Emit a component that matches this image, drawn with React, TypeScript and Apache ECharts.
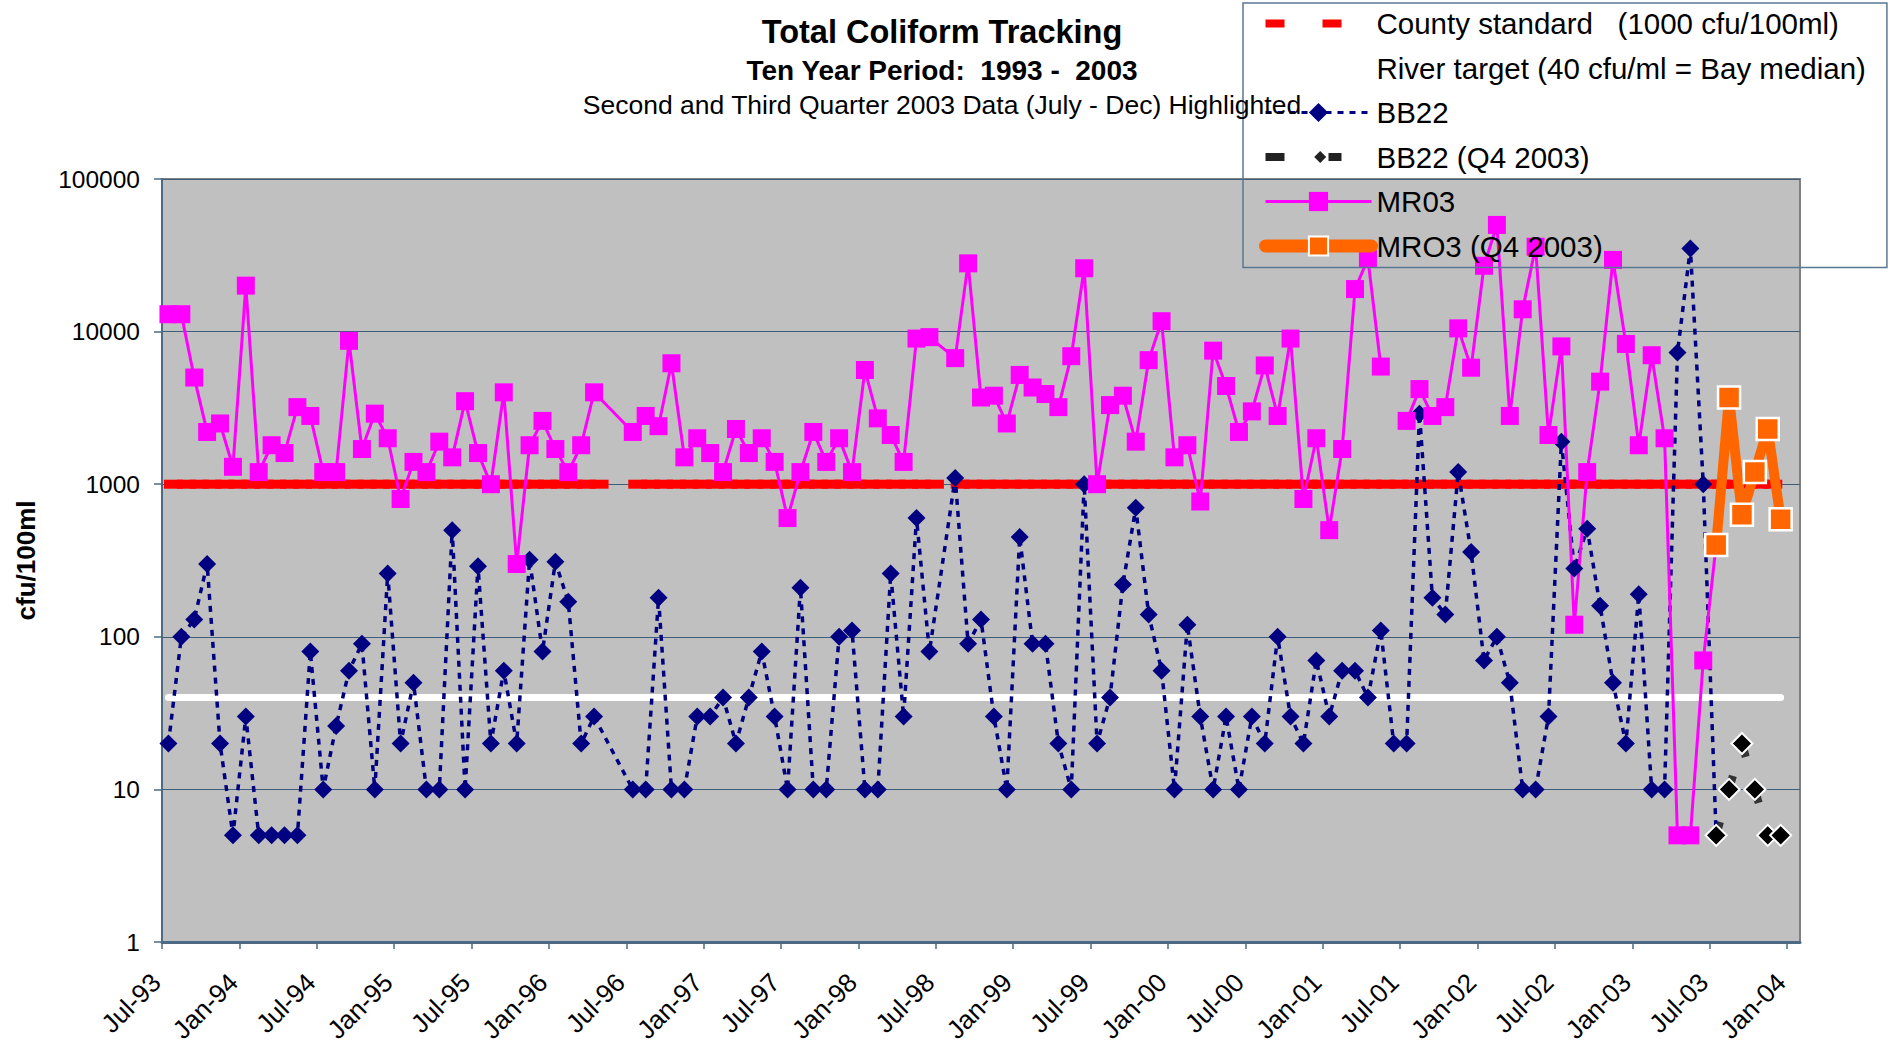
import React, { useEffect, useRef } from 'react';
import * as echarts from 'echarts';

const FONT = '"Liberation Sans", Arial, Helvetica, sans-serif';

// Sampling months (rows of the source table). May-96, Jun-96 and Jul-98 have no row.
const SAMPLE_MONTHS: string[] = [
  '1993-07', '1993-08', '1993-09', '1993-10', '1993-11', '1993-12',
  '1994-01', '1994-02', '1994-03', '1994-04', '1994-05', '1994-06', '1994-07', '1994-08', '1994-09', '1994-10', '1994-11', '1994-12',
  '1995-01', '1995-02', '1995-03', '1995-04', '1995-05', '1995-06', '1995-07', '1995-08', '1995-09', '1995-10', '1995-11', '1995-12',
  '1996-01', '1996-02', '1996-03', '1996-04', '1996-07', '1996-08', '1996-09', '1996-10', '1996-11', '1996-12',
  '1997-01', '1997-02', '1997-03', '1997-04', '1997-05', '1997-06', '1997-07', '1997-08', '1997-09', '1997-10', '1997-11', '1997-12',
  '1998-01', '1998-02', '1998-03', '1998-04', '1998-05', '1998-06', '1998-08', '1998-09', '1998-10', '1998-11', '1998-12',
  '1999-01', '1999-02', '1999-03', '1999-04', '1999-05', '1999-06', '1999-07', '1999-08', '1999-09', '1999-10', '1999-11', '1999-12',
  '2000-01', '2000-02', '2000-03', '2000-04', '2000-05', '2000-06', '2000-07', '2000-08', '2000-09', '2000-10', '2000-11', '2000-12',
  '2001-01', '2001-02', '2001-03', '2001-04', '2001-05', '2001-06', '2001-07', '2001-08', '2001-09', '2001-10', '2001-11', '2001-12',
  '2002-01', '2002-02', '2002-03', '2002-04', '2002-05', '2002-06', '2002-07', '2002-08', '2002-09', '2002-10', '2002-11', '2002-12',
  '2003-01', '2003-02', '2003-03', '2003-04', '2003-05', '2003-06', '2003-07', '2003-08', '2003-09', '2003-10', '2003-11', '2003-12',
];

// BB22 (cfu/100ml), Jul-93 .. Jul-03
const BB22: (number | null)[] = [
  20, 100, 130, 300, 20, 5,
  30, 5, 5, 5, 5, 80, 10, 26, 60, 90, 10, 260,
  20, 50, 10, 10, 500, 10, 290, 20, 60, 20, 320, 80,
  310, 170, 20, 30, 10, 10, 180, 10, 10, 30,
  30, 40, 20, 40, 80, 30, 10, 210, 10, 10, 100, 110,
  10, 10, 260, 30, 600, 80, 1100, 90, 130, 30, 10,
  450, 90, 90, 20, 10, 1000, 20, 40, 220, 700, 140, 60,
  10, 120, 30, 10, 30, 10, 30, 20, 100, 30, 20, 70,
  30, 60, 60, 40, 110, 20, 20, 2900, 180, 140, 1200, 360,
  70, 100, 50, 10, 10, 30, 1900, 280, 510, 160, 50, 20,
  190, 10, 10, 7300, 35000, 1000, 5,
];

// MR03 (cfu/100ml), Jul-93 .. Jul-03 (Jun-01 missing)
const MR03: (number | null)[] = [
  13000, 13000, 5000, 2200, 2500, 1300,
  20000, 1200, 1800, 1600, 3200, 2800, 1200, 1200, 8700, 1700, 2900, 2000,
  800, 1400, 1200, 1900, 1500, 3500, 1600, 1000, 4000, 300, 1800, 2600,
  1700, 1200, 1800, 4000, 2200, 2800, 2400, 6200, 1500, 2000,
  1600, 1200, 2300, 1600, 2000, 1400, 600, 1200, 2200, 1400, 2000, 1200,
  5600, 2700, 2100, 1400, 9000, 9200, 6700, 28000, 3700, 3800, 2500,
  5200, 4300, 3900, 3200, 6900, 26000, 1000, 3300, 3800, 1900, 6500, 11700,
  1500, 1800, 770, 7500, 4400, 2200, 3000, 6000, 2800, 9000, 800, 2000,
  500, 1700, 19000, 30000, 5900, null, 2600, 4200, 2800, 3200, 10500, 5800,
  27000, 50000, 2800, 14000, 36000, 2100, 8000, 120, 1200, 4700, 29500, 8300,
  1800, 7000, 2000, 5, 5, 70, 400,
];

// Highlighted period
const Q4_MONTHS: string[] = ['2003-07', '2003-08', '2003-09', '2003-10', '2003-11', '2003-12'];
const BB22_Q4: number[] = [5, 10, 20, 10, 5, 5];
const MR03_Q4: number[] = [400, 3700, 630, 1200, 2300, 590];

const COUNTY_STANDARD = 1000;
const RIVER_TARGET = 40;

const X_TICK_LABELS: string[] = [
  'Jul-93', 'Jan-94', 'Jul-94', 'Jan-95', 'Jul-95', 'Jan-96', 'Jul-96', 'Jan-97', 'Jul-97', 'Jan-98', 'Jul-98',
  'Jan-99', 'Jul-99', 'Jan-00', 'Jul-00', 'Jan-01', 'Jul-01', 'Jan-02', 'Jul-02', 'Jan-03', 'Jul-03', 'Jan-04',
];

const COUNTY_NAME = 'County standard   (1000 cfu/100ml)';
const RIVER_NAME = 'River target (40 cfu/ml = Bay median)';

// month index from Jul-93, centred in the month
const AXIS_START_YEAR = 1993;
const AXIS_START_MONTH = 7;
const AXIS_MONTHS = 127; // Jul-93 .. end of Jan-04
function monthPos(ym: string): number {
  const [y, m] = ym.split('-').map(Number);
  return (y - AXIS_START_YEAR) * 12 + (m - AXIS_START_MONTH) + 0.5;
}

const TICK_POS = X_TICK_LABELS.map((_, i) => i * 6);

const toPts = (months: string[], vals: (number | null)[]) =>
  vals.map((v, i) => [monthPos(months[i]), v == null ? '-' : v]);

const countyPts = SAMPLE_MONTHS.map((m) => [monthPos(m), COUNTY_STANDARD]);
const riverPts = SAMPLE_MONTHS.map((m) => [monthPos(m), RIVER_TARGET]);
const bb22Pts = toPts(SAMPLE_MONTHS, BB22);
const mr03Pts = toPts(SAMPLE_MONTHS, MR03);
const bb22q4Pts = toPts(Q4_MONTHS, BB22_Q4);
const mr03q4Pts = toPts(Q4_MONTHS, MR03_Q4);

// Excel-like dashed segments: dash pattern restarts on each segment
function segmentRenderer(points: any[], color: string, width: number) {
  return (params: any, api: any) => {
    const i = params.dataIndex;
    if (i >= points.length - 1) return null;
    const a = api.coord(points[i]);
    const b = api.coord(points[i + 1]);
    return {
      type: 'line',
      shape: { x1: a[0], y1: a[1], x2: b[0], y2: b[1] },
      style: { stroke: color, lineWidth: width, lineDash: [10, 47], lineCap: 'square', fill: null },
      silent: true,
    };
  };
}

const COUNTY_ICON = 'path://M0,0h0.01v0.01h-0.01zM105.99,23.99h0.01v0.01h-0.01zM0,8h19v8h-19zM57,8h19v8h-19z';
const Q4_ICON = 'path://M0,0h0.01v0.01h-0.01zM105.99,23.99h0.01v0.01h-0.01zM0,8h19v8h-19zM54.7,6l6,6l-6,6l-6,-6zM63,8h13v8h-13z';

const AXIS_COLOR = '#4d6a84';

function buildOption(): any {
  return {
    animation: false,
    backgroundColor: '#ffffff',
    title: [
      {
        text: 'Total Coliform Tracking', left: 942, top: 32, textAlign: 'center', textVerticalAlign: 'middle', padding: 0,
        textStyle: { fontFamily: FONT, fontSize: 32.5, fontWeight: 'bold', color: '#000' },
      },
      {
        text: 'Ten Year Period:  1993 -  2003', left: 942, top: 70, textAlign: 'center', textVerticalAlign: 'middle', padding: 0,
        textStyle: { fontFamily: FONT, fontSize: 28, fontWeight: 'bold', color: '#000' },
      },
      {
        text: 'Second and Third Quarter 2003 Data (July - Dec) Highlighted', left: 942, top: 105, textAlign: 'center', textVerticalAlign: 'middle', padding: 0,
        textStyle: { fontFamily: FONT, fontSize: 26.5, fontWeight: 'normal', color: '#000' },
      },
    ],
    legend: {
      orient: 'vertical',
      left: 1243,
      top: 3,
      padding: [3.5, 21, 4.5, 16],
      itemWidth: 106,
      itemHeight: 24,
      itemGap: 10.5,
      itemTextGap: 4,
      backgroundColor: 'transparent',
      borderColor: '#5a7892',
      borderWidth: 1.5,
      textStyle: { fontFamily: FONT, fontSize: 29.5, lineHeight: 34, color: '#000' },
      data: [
        { name: COUNTY_NAME, icon: COUNTY_ICON },
        { name: RIVER_NAME, lineStyle: { width: 7 } },
        { name: 'BB22', lineStyle: { width: 3 } },
        { name: 'BB22 (Q4 2003)', icon: Q4_ICON, itemStyle: { color: '#222222', borderWidth: 0 } },
        { name: 'MR03', lineStyle: { width: 3 } },
        { name: 'MRO3 (Q4 2003)', lineStyle: { width: 13 } },
      ],
    },
    grid: {
      left: 162, top: 179, width: 1638, height: 763,
      show: true, backgroundColor: '#C0C0C0', borderColor: '#808080', borderWidth: 2,
      containLabel: false, outerBoundsMode: 'none',
    },
    xAxis: {
      type: 'value', min: 0, max: AXIS_MONTHS, interval: 6,
      axisLine: { show: true, onZero: false, lineStyle: { color: AXIS_COLOR, width: 3 } },
      axisTick: { show: true, length: 7, inside: false, customValues: TICK_POS, lineStyle: { color: AXIS_COLOR, width: 1.5 } },
      axisLabel: {
        customValues: TICK_POS, rotate: 45, margin: 30, fontSize: 26, fontFamily: FONT, color: '#000',
        padding: [0, 8.5, 17, 0],
        formatter: (v: number) => {
          const k = Math.round(v / 6);
          return Math.abs(v - k * 6) < 1e-6 ? (X_TICK_LABELS[k] ?? '') : '';
        },
      },
      splitLine: { show: false },
    },
    yAxis: {
      type: 'log', logBase: 10, min: 1, max: 100000,
      name: 'cfu/100ml', nameLocation: 'middle', nameGap: 123, nameRotate: 90,
      nameTextStyle: { fontFamily: FONT, fontSize: 26, fontWeight: 'bold', color: '#000' },
      axisLine: { show: true, onZero: false, lineStyle: { color: AXIS_COLOR, width: 2 } },
      axisTick: { show: true, length: 8, lineStyle: { color: AXIS_COLOR, width: 1.5 } },
      axisLabel: { margin: 22, fontSize: 24.5, fontFamily: FONT, color: '#000', formatter: (v: number) => String(Math.round(v)) },
      splitLine: { show: true, lineStyle: { color: '#3e5d78', width: 1 } },
      minorTick: { show: false },
      minorSplitLine: { show: false },
    },
    series: [
      {
        type: 'custom', name: COUNTY_NAME, coordinateSystem: 'cartesian2d',
        data: countyPts, encode: { x: 0, y: 1 },
        itemStyle: { color: '#FF0000' },
        renderItem: segmentRenderer(countyPts, '#FF0000', 9),
        silent: true,
      },
      {
        type: 'line', name: RIVER_NAME, data: riverPts, symbol: 'none',
        itemStyle: { color: '#FFFFFF' },
        lineStyle: { color: '#FFFFFF', width: 7, cap: 'round' },
        silent: true,
      },
      {
        type: 'line', name: 'BB22', data: bb22Pts, connectNulls: false,
        symbol: 'diamond', symbolSize: 18, showSymbol: true, showAllSymbol: true,
        itemStyle: { color: '#000080' },
        lineStyle: { color: '#000080', width: 3.5, type: [6, 6] },
      },
      {
        type: 'custom', name: 'BB22 Q4 segments', coordinateSystem: 'cartesian2d',
        data: bb22q4Pts, encode: { x: 0, y: 1 },
        itemStyle: { color: '#333333' },
        renderItem: segmentRenderer(bb22q4Pts, '#333333', 8),
        silent: true,
      },
      {
        type: 'line', name: 'BB22 (Q4 2003)', data: bb22q4Pts,
        symbol: 'diamond', symbolSize: 21, showSymbol: true, showAllSymbol: true,
        itemStyle: { color: '#000000', borderColor: '#FFFFFF', borderWidth: 2 },
        lineStyle: { width: 0, opacity: 0 },
      },
      {
        type: 'line', name: 'MR03', data: mr03Pts, connectNulls: false,
        symbol: 'rect', symbolSize: 18, showSymbol: true, showAllSymbol: true,
        itemStyle: { color: '#FF00FF' },
        lineStyle: { color: '#FF00FF', width: 3 },
      },
      {
        type: 'line', name: 'MRO3 (Q4 2003)', data: mr03q4Pts,
        symbol: 'rect', symbolSize: 22, showSymbol: true, showAllSymbol: true,
        itemStyle: { color: '#FF6600', borderColor: '#FFFFFF', borderWidth: 2.5 },
        lineStyle: { color: '#FF6600', width: 10, cap: 'round', join: 'round' },
      },
    ],
  };
}

export default function App() {
  const ref = useRef<HTMLDivElement>(null);
  useEffect(() => {
    document.body.style.margin = '0';
    const chart = echarts.init(ref.current as HTMLDivElement, null, { renderer: 'svg', width: 1892, height: 1045 });
    chart.setOption(buildOption());
    return () => chart.dispose();
  }, []);
  return (
    <div
      ref={ref}
      style={{ position: 'fixed', left: 0, top: 0, width: 1892, height: 1045, background: '#ffffff' }}
    />
  );
}
